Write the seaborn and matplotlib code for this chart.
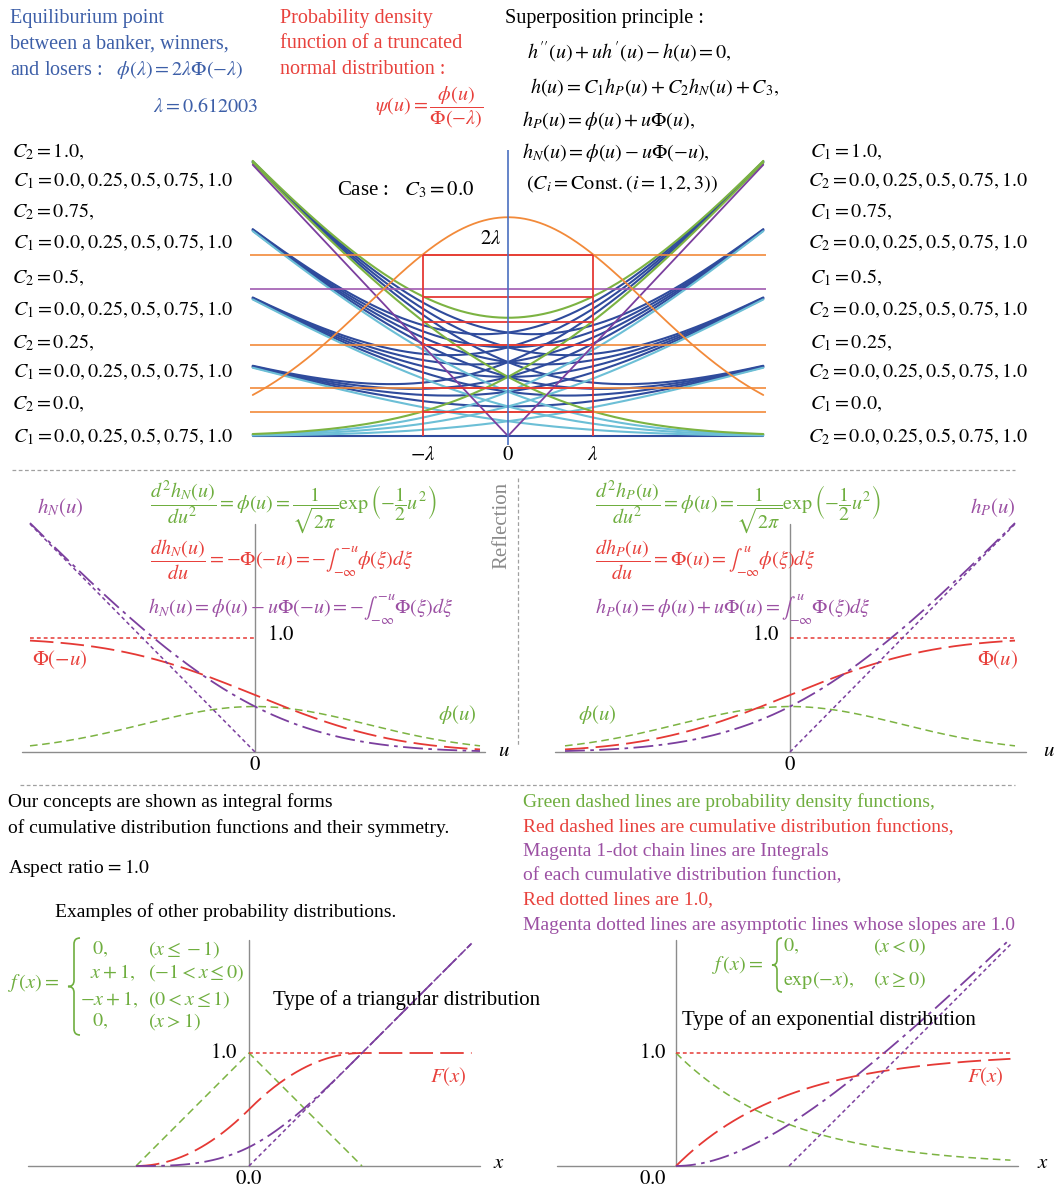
import math

import matplotlib
import matplotlib.pyplot as plt
import numpy as np
import pandas as pd
import seaborn as sns
from matplotlib.patches import PathPatch
from matplotlib.path import Path

# values
lam = 0.612003
c1_values = [0.0, 0.25, 0.5, 0.75, 1.0]
c2_values = [0.0, 0.25, 0.5, 0.75, 1.0]
top_u_range = [-1.83, 1.83]
orange_levels = [1.224, 0.612, 0.323, 0.161]
purple_levels = [0.995]
red_levels = [0.935, 0.767, 0.612, 0.323, 0.161]
mid_u_range = [-2.0, 2.0]
tri_x_range = [-1.0, 1.97]
exp_x_range = [0.0, 2.96]

BLUE = "#2f4b9c"
CYAN = "#6cbfd6"
GREEN = "#7cb342"
ORANGE = "#f28a3a"
PURPLE = "#7b3f9e"
RED = "#e53935"
GRAY = "#8c8c8c"
TXT_BLUE = "#3d5fa8"
TXT_RED = "#e8413c"
TXT_GREEN = "#6fae3f"
TXT_PURPLE = "#9b50a3"

sns.set_theme(style="white")
plt.rcParams["font.family"] = ["Liberation Serif", "DejaVu Serif"]
plt.rcParams["mathtext.fontset"] = "stix"

W, H = 1057, 1188
fig = plt.figure(figsize=(W / 100, H / 100), dpi=100)

erf = np.vectorize(math.erf)


def phi(u):
    return np.exp(-0.5 * u ** 2) / math.sqrt(2 * math.pi)


def Phi(u):
    return 0.5 * (1 + erf(u / math.sqrt(2)))


def hP(u):
    return phi(u) + u * Phi(u)


def hN(u):
    return phi(u) - u * Phi(-u)


def add_ax(left, right, top, bottom, x0, y0, sx, sy):
    ax = fig.add_axes([left / W, 1 - bottom / H, (right - left) / W, (bottom - top) / H])
    ax.set_xlim((left - x0) / sx, (right - x0) / sx)
    ax.set_ylim((y0 - bottom) / sy, (y0 - top) / sy)
    ax.set_axis_off()
    return ax


def txt(x, y, s, color="black", size=14, ha="left", **kw):
    fig.text(x / W, 1 - y / H, s, color=color, fontsize=size, ha=ha, va="center", **kw)


def brace(x, y_top, y_bot, w, color):
    # thin curly brace drawn as a stroked path, in pixel coordinates
    ym = (y_top + y_bot) / 2
    xm = x + w / 2
    r = w / 2
    pts = [(x + w, y_top), (xm, y_top), (xm, y_top + r), (xm, ym - r), (xm, ym), (x, ym),
           (xm, ym), (xm, ym + r), (xm, y_bot - r), (xm, y_bot), (x + w, y_bot)]
    codes = [Path.MOVETO, Path.CURVE3, Path.CURVE3, Path.LINETO, Path.CURVE3, Path.CURVE3,
             Path.CURVE3, Path.CURVE3, Path.LINETO, Path.CURVE3, Path.CURVE3]
    path = Path([(px / W, 1 - py / H) for px, py in pts], codes)
    fig.add_artist(PathPatch(path, transform=fig.transFigure, facecolor="none",
                             edgecolor=color, lw=1.2))


def line(ax, x, y, color, ls="-", lw=1.3):
    sns.lineplot(x=x, y=y, ax=ax, color=color, linestyle=ls, linewidth=lw,
                 estimator=None, sort=False, legend=False)


# ---------------- top panel ----------------
ax = add_ax(250, 766, 150, 445, 508, 436, 139.5, 148.2)
u = np.linspace(top_u_range[0], top_u_range[1], 401)


def family_color(c1, c2):
    if (c1, c2) in [(1.0, 1.0), (1.0, 0.0), (0.0, 1.0)]:
        return GREEN
    if (c1 == 0.0) != (c2 == 0.0):
        return CYAN
    return BLUE


rows = []
palette = {}
for c2 in c2_values:
    for c1 in c1_values:
        key = f"C1={c1},C2={c2}"
        palette[key] = family_color(c1, c2)
        rows.append(pd.DataFrame({"u": u, "h": c1 * hP(u) + c2 * hN(u), "curve": key}))
top_df = pd.concat(rows, ignore_index=True)
rank = {BLUE: 0, CYAN: 1, GREEN: 2}
hue_order = sorted(palette, key=lambda k: rank[palette[k]])
sns.lineplot(data=top_df, x="u", y="h", hue="curve", hue_order=hue_order, palette=palette,
             estimator=None, sort=False, legend=False, linewidth=1.5, ax=ax)

for lv in orange_levels:
    ax.axhline(lv, color=ORANGE, lw=1.2)
for lv in purple_levels:
    ax.axhline(lv, color="#a05ab0", lw=1.2)
line(ax, u, np.abs(u), PURPLE, lw=1.3)
line(ax, u, phi(u) / Phi(-lam), ORANGE, lw=1.3)
ax.hlines(red_levels + [2 * lam], -lam, lam, color=RED, lw=1.3)
ax.vlines([-lam, lam], 0, 2 * lam, color=RED, lw=1.3)
ax.axvline(0, color="#4a6fc0", lw=1.2)

txt(337, 190, r"Case :   $C_3 = 0.0$", size=15)
txt(480, 240, r"$2\lambda$", size=15)
txt(423, 456, r"$-\lambda$", size=15, ha="center")
txt(508, 456, r"$0$", size=15, ha="center")
txt(593, 456, r"$\lambda$", size=15, ha="center")

# header texts
txt(10, 18, "Equiliburium point", TXT_BLUE, 14.5)
txt(10, 44, "between a banker, winners,", TXT_BLUE, 14.5)
txt(10, 70, r"and losers :   $\phi(\lambda) = 2\lambda\Phi(-\lambda)$", TXT_BLUE, 14.5)
txt(258, 107, r"$\lambda = 0.612003$", TXT_BLUE, 14.5, ha="right")

txt(280, 18, "Probability density", TXT_RED, 14.5)
txt(280, 44, "function of a truncated", TXT_RED, 14.5)
txt(280, 70, "normal distribution :", TXT_RED, 14.5)
txt(375, 107, r"$\psi(u) = \dfrac{\phi(u)}{\Phi(-\lambda)}$", TXT_RED, 14.5)

txt(505, 18, "Superposition principle :", size=14.5)
txt(527, 52, r"$h^{\prime\prime}(u) + uh^{\prime}(u) - h(u) = 0,$", size=14.5)
txt(530, 87, r"$h(u) = C_1 h_P(u) + C_2 h_N(u) + C_3,$", size=14.5)
txt(522, 120, r"$h_P(u) = \phi(u) + u\Phi(u),$", size=14.5)
txt(522, 152, r"$h_N(u) = \phi(u) - u\Phi(-u),$", size=14.5)
txt(526, 184, r"$(C_i = \mathrm{Const.}(i = 1, 2, 3))$", size=14.5)

list_y = [152, 181, 212, 243, 278, 310, 343, 372, 405, 437]
c_strs = ["1.0", "0.75", "0.5", "0.25", "0.0"]
seq = r"0.0, 0.25, 0.5, 0.75, 1.0"
for i, cs in enumerate(c_strs):
    txt(12, list_y[2 * i], rf"$C_2 = {cs},$", size=14.5)
    txt(13, list_y[2 * i + 1], rf"$C_1 = {seq}$", size=14.5)
    txt(810, list_y[2 * i], rf"$C_1 = {cs},$", size=14.5)
    txt(808, list_y[2 * i + 1], rf"$C_2 = {seq}$", size=14.5)

# separators
fig.add_artist(plt.Line2D([12 / W, 1015 / W], [1 - 470 / H] * 2, color="#a0a0a0", lw=0.9,
                          linestyle=(0, (3, 2)), transform=fig.transFigure))
fig.add_artist(plt.Line2D([20 / W, 1015 / W], [1 - 785 / H] * 2, color="#a0a0a0", lw=0.9,
                          linestyle=(0, (3, 2)), transform=fig.transFigure))
fig.add_artist(plt.Line2D([518 / W] * 2, [1 - 478 / H, 1 - 745 / H], color="#a0a0a0", lw=0.9,
                          linestyle=(0, (3, 2)), transform=fig.transFigure))
txt(502, 525, "Reflection", "#8a8a8a", 15, ha="center", rotation=90)

# ---------------- middle panels ----------------
um = np.linspace(mid_u_range[0], mid_u_range[1], 401)
uneg = np.linspace(mid_u_range[0], 0, 200)
upos = np.linspace(0, mid_u_range[1], 200)
DASH_G = (0, (5, 3))
DASH_R = (0, (13, 4))
DASH_P = (0, (11, 3, 2, 3))
DOT = (0, (2.5, 2))

axl = add_ax(18, 492, 512, 762, 255, 752, 112.5, 114)
axl.plot([-2.07, 2.04], [0, 0], color=GRAY, lw=1)
axl.plot([0, 0], [0, 2.0], color=GRAY, lw=1)
line(axl, um, phi(um), GREEN, DASH_G, 1.1)
line(axl, uneg, np.ones_like(uneg), RED, DOT, 1.1)
line(axl, um, Phi(-um), RED, DASH_R)
line(axl, uneg, -uneg, PURPLE, DOT, 1.1)
line(axl, um, hN(um), PURPLE, DASH_P)

axr = add_ax(552, 1030, 512, 762, 790, 752, 112.5, 114)
axr.plot([-2.09, 2.1], [0, 0], color=GRAY, lw=1)
axr.plot([0, 0], [0, 2.0], color=GRAY, lw=1)
line(axr, um, phi(um), GREEN, DASH_G, 1.1)
line(axr, upos, np.ones_like(upos), RED, DOT, 1.1)
line(axr, um, Phi(um), RED, DASH_R)
line(axr, upos, upos, PURPLE, DOT, 1.1)
line(axr, um, hP(um), PURPLE, DASH_P)

Pit = r"\mathit{\Phi}"
txt(150, 507, r"$\dfrac{d^2h_N(u)}{du^2} = \phi(u) = \dfrac{1}{\sqrt{2\pi}}\exp\left(-\dfrac{1}{2}u^2\right)$",
    TXT_GREEN, 14.5)
txt(150, 560, rf"$\dfrac{{dh_N(u)}}{{du}} = -{Pit}(-u) = -\int_{{-\infty}}^{{-u}}\phi(\xi)d\xi$", TXT_RED, 14.5)
txt(148, 608, rf"$h_N(u) = \phi(u) - u{Pit}(-u) = -\int_{{-\infty}}^{{-u}}{Pit}(\xi)d\xi$", TXT_PURPLE, 14.5)
txt(37, 508, r"$h_N(u)$", TXT_PURPLE, 15)
txt(32, 660, rf"${Pit}(-u)$", TXT_RED, 15)
txt(267, 635, r"$1.0$", size=15)
txt(438, 715, r"$\phi(u)$", TXT_GREEN, 15)
txt(255, 766, r"$0$", size=15, ha="center")
txt(498, 752, r"$u$", size=15)

txt(595, 507, r"$\dfrac{d^2h_P(u)}{du^2} = \phi(u) = \dfrac{1}{\sqrt{2\pi}}\exp\left(-\dfrac{1}{2}u^2\right)$",
    TXT_GREEN, 14.5)
txt(595, 560, rf"$\dfrac{{dh_P(u)}}{{du}} = {Pit}(u) = \int_{{-\infty}}^{{u}}\phi(\xi)d\xi$", TXT_RED, 14.5)
txt(595, 608, rf"$h_P(u) = \phi(u) + u{Pit}(u) = \int_{{-\infty}}^{{u}}{Pit}(\xi)d\xi$", TXT_PURPLE, 14.5)
txt(970, 508, r"$h_P(u)$", TXT_PURPLE, 15)
txt(977, 660, rf"${Pit}(u)$", TXT_RED, 15)
txt(780, 635, r"$1.0$", size=15, ha="right")
txt(578, 715, r"$\phi(u)$", TXT_GREEN, 15)
txt(790, 766, r"$0$", size=15, ha="center")
txt(1043, 752, r"$u$", size=15)

# ---------------- notes ----------------
txt(8, 802, "Our concepts are shown as integral forms", size=14)
txt(8, 828, "of cumulative distribution functions and their symmetry.", size=14)
txt(8, 868, r"Aspect ratio$\,=1.0$", size=14)
txt(55, 912, "Examples of other probability distributions.", size=14)
txt(523, 802, "Green dashed lines are probability density functions,", TXT_GREEN, 14)
txt(523, 828, "Red dashed lines are cumulative distribution functions,", TXT_RED, 14)
txt(523, 852, "Magenta 1-dot chain lines are Integrals", TXT_PURPLE, 14)
txt(523, 876, "of each cumulative distribution function,", TXT_PURPLE, 14)
txt(523, 900, "Red dotted lines are 1.0,", TXT_RED, 14)
txt(523, 925, "Magenta dotted lines are asymptotic lines whose slopes are 1.0", TXT_PURPLE, 14)

# ---------------- triangular ----------------
axt = add_ax(25, 485, 935, 1172, 249, 1166, 113, 113)
axt.plot([-1.96, 2.04], [0, 0], color=GRAY, lw=1)
axt.plot([0, 0], [0, 2.0], color=GRAY, lw=1)
xt = np.linspace(tri_x_range[0], tri_x_range[1], 400)
xg = np.linspace(-1, 1, 201)
F_tri = np.where(xt <= 0, (xt + 1) ** 2 / 2, np.where(xt <= 1, 1 - (1 - xt) ** 2 / 2, 1.0))
G_tri = np.where(xt <= 0, (xt + 1) ** 3 / 6, np.where(xt <= 1, xt + (1 - xt) ** 3 / 6, xt))
line(axt, xg, 1 - np.abs(xg), GREEN, DASH_G, 1.1)
line(axt, [0, 1.0], [1, 1], RED, DOT, 1.1)
line(axt, xt, F_tri, RED, DASH_R)
line(axt, [0, tri_x_range[1]], [0, tri_x_range[1]], PURPLE, DOT, 1.1)
line(axt, xt, G_tri, PURPLE, DASH_P)

brace(68, 938, 1035, 12, TXT_GREEN)
txt(8, 983, r"$f\,(x) =$", TXT_GREEN, 14.5)
for y, a, b, xa in [(950, r"$0,$", r"$(x \leq -1)$", 92), (973, r"$x+1,$", r"$(-1 < x \leq 0)$", 90),
                    (1000, r"$-x+1,$", r"$(0 < x \leq 1)$", 80), (1022, r"$0,$", r"$(x > 1)$", 92)]:
    txt(xa, y, a, TXT_GREEN, 14.5)
    txt(148, y, b, TXT_GREEN, 14.5)
txt(273, 1000, "Type of a triangular distribution", size=15)
txt(430, 1077, r"$F(x)$", TXT_RED, 15)
txt(238, 1053, r"$1.0$", size=15, ha="right")
txt(249, 1180, r"$0.0$", size=15, ha="center")
txt(493, 1163, r"$x$", size=15)

# ---------------- exponential ----------------
axe = add_ax(553, 1022, 935, 1172, 676, 1166, 113, 113)
axe.plot([-1.05, 3.03], [0, 0], color=GRAY, lw=1)
axe.plot([0, 0], [0, 2.0], color=GRAY, lw=1)
xe = np.linspace(exp_x_range[0], exp_x_range[1], 400)
line(axe, xe, np.exp(-xe), GREEN, DASH_G, 1.1)
line(axe, xe, np.ones_like(xe), RED, DOT, 1.1)
line(axe, xe, 1 - np.exp(-xe), RED, DASH_R)
line(axe, [1.0, exp_x_range[1]], [0, exp_x_range[1] - 1], PURPLE, DOT, 1.1)
line(axe, xe, xe - 1 + np.exp(-xe), PURPLE, DASH_P)

brace(772, 938, 992, 10, TXT_GREEN)
txt(712, 965, r"$f\,(x) =$", TXT_GREEN, 14.5)
txt(783, 947, r"$0,$", TXT_GREEN, 14.5)
txt(873, 947, r"$(x < 0)$", TXT_GREEN, 14.5)
txt(783, 980, r"$\exp(-x),$", TXT_GREEN, 14.5)
txt(873, 980, r"$(x \geq 0)$", TXT_GREEN, 14.5)
txt(682, 1020, "Type of an exponential distribution", size=15)
txt(967, 1077, r"$F(x)$", TXT_RED, 15)
txt(667, 1053, r"$1.0$", size=15, ha="right")
txt(653, 1180, r"$0.0$", size=15, ha="center")
txt(1037, 1163, r"$x$", size=15)

fig.savefig("out.png", dpi=100)
